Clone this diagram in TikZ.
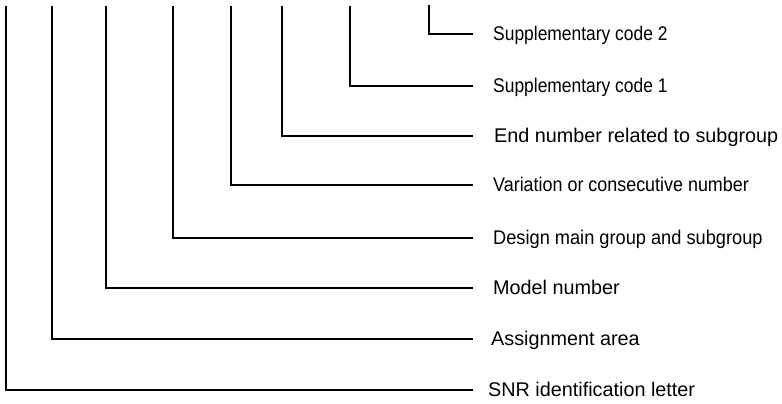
\documentclass[tikz,border=0pt]{standalone}
\usepackage{fontspec}
\setmainfont{Liberation Sans}
\begin{document}
\begin{tikzpicture}[x=1pt,y=-1pt,
  conn/.style={line width=1.6pt,black},
  lbl/.style={anchor=base west,inner sep=0pt,font=\fontsize{19.8}{24}\selectfont}]
\useasboundingbox (0,0) rectangle (782,404);
\def\topy{6}
\def\endx{473}
% labels
\node[lbl] (l1) at (493,{34+6.5}) {\scalebox{0.88}[1]{Supplementary code 2}};
\node[lbl] (l2) at (493,{86+6.5}) {\scalebox{0.88}[1]{Supplementary code 1}};
\node[lbl] (l3) at (494,{136+6.5}) {End number related to subgroup};
\node[lbl] (l4) at (493,{185+6.5}) {\scalebox{0.905}[1]{Variation or consecutive number}};
\node[lbl] (l5) at (493,{238+6.5}) {\scalebox{0.92}[1]{Design main group and subgroup}};
\node[lbl] (l6) at (493,{288+6.5}) {Model number};
\node[lbl] (l7) at (491,{339+6.5}) {Assignment area};
\node[lbl] (l8) at (488,{390+6.5}) {SNR identification letter};
% coordinates
\coordinate (t1) at (429,5);   \coordinate (e1) at (\endx,34);
\coordinate (t2) at (350,\topy); \coordinate (e2) at (\endx,86);
\coordinate (t3) at (282,\topy); \coordinate (e3) at (\endx,136);
\coordinate (t4) at (231,\topy); \coordinate (e4) at (\endx,185);
\coordinate (t5) at (173,\topy); \coordinate (e5) at (\endx,238);
\coordinate (t6) at (106,\topy); \coordinate (e6) at (\endx,288);
\coordinate (t7) at (52,\topy);  \coordinate (e7) at (\endx,339);
\coordinate (t8) at (6,\topy);   \coordinate (e8) at (\endx,390);
\foreach \i in {1,...,8}{\draw[conn] (t\i) |- (e\i);}
\end{tikzpicture}
\end{document}
